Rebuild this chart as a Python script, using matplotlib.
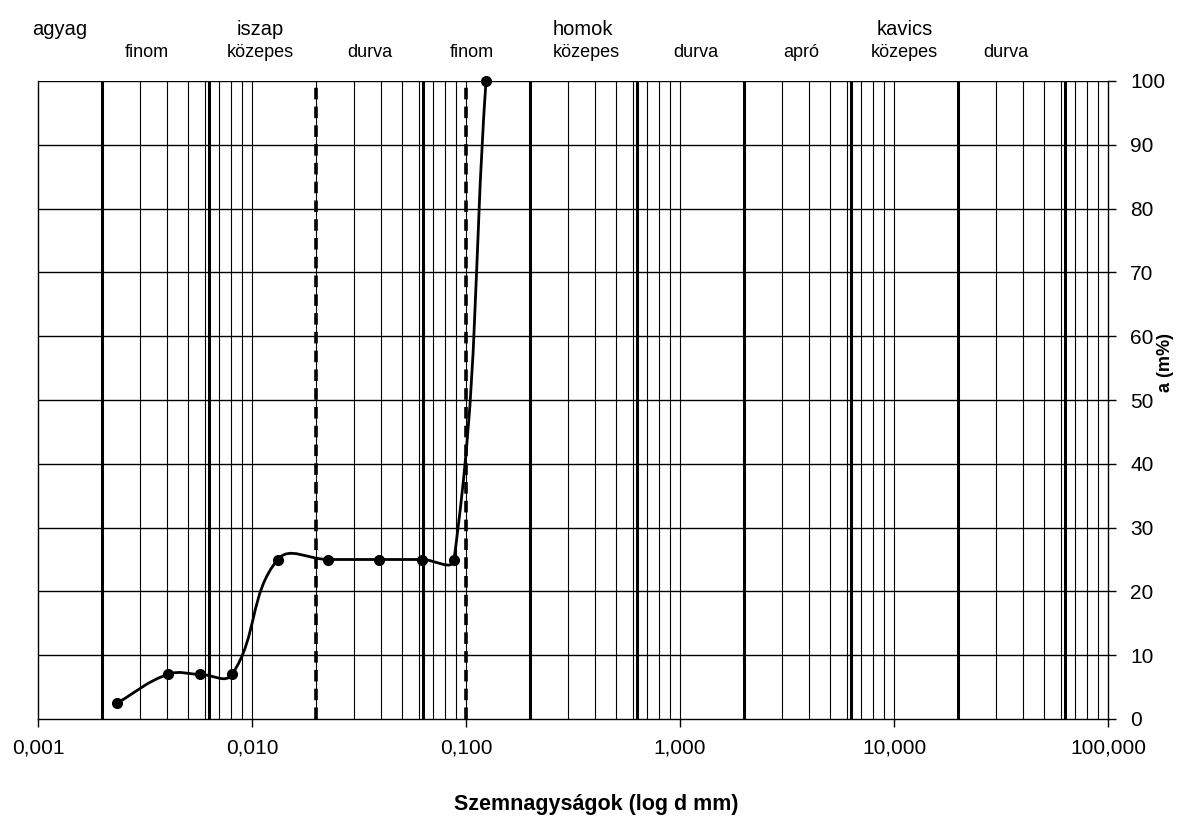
import numpy as np
import matplotlib
matplotlib.use("Agg")
import matplotlib.pyplot as plt
from matplotlib.path import Path
from matplotlib.patches import PathPatch

plt.rcParams["font.family"] = ["Liberation Sans", "DejaVu Sans"]

# measured grain sizes (mm) and passing percentage
d_mm = [0.00234, 0.00405, 0.00571, 0.00807, 0.0132, 0.0227, 0.0392, 0.0623, 0.0879, 0.124]
passing = [2.5, 7.0, 7.0, 7.0, 25.0, 25.0, 25.0, 25.0, 25.0, 100.0]

# fraction boundaries
solid_bounds = [0.002, 0.0063, 0.063, 0.2, 0.63, 2, 6.3, 20, 63]
dashed_bounds = [0.02, 0.1]

x_ticks = [0.001, 0.01, 0.1, 1, 10, 100]
x_ticklabels = ["0,001", "0,010", "0,100", "1,000", "10,000", "100,000"]
y_ticks = list(range(0, 101, 10))

main_labels = [("agyag", 0.00126), ("iszap", 0.0109), ("homok", 0.35), ("kavics", 11.2)]
sub_labels = [("finom", 0.00323), ("közepes", 0.0109), ("durva", 0.0357), ("finom", 0.106),
              ("közepes", 0.365), ("durva", 1.18), ("apró", 3.67), ("közepes", 11.2), ("durva", 33.4)]

fig = plt.figure(figsize=(11.84, 8.18), dpi=100)
ax = fig.add_axes([38 / 1184, 1 - 719 / 818, 1070 / 1184, 638 / 818])
ax.set_xscale("log")
ax.set_xlim(0.001, 100)
ax.set_ylim(0, 100)

# thin log grid
for n in range(-3, 2):
    for k in range(1, 10):
        v = k * 10.0 ** n
        if 0.001 < v < 100:
            ax.axvline(v, color="black", lw=0.8, zorder=1)
for y in y_ticks[1:]:
    ax.axhline(y, color="black", lw=1.0, zorder=1)

for b in solid_bounds:
    ax.axvline(b, color="black", lw=2.2, zorder=2)
for b in dashed_bounds:
    ax.axvline(b, color="black", lw=2.6, ls=(0, (3.2, 2.0)), zorder=2)

# smoothed curve through the points, like a spreadsheet "smoothed line" (display space)
pts = ax.transData.transform(np.column_stack([d_mm, passing]))
ext = np.vstack([pts[0], pts, pts[-1]])
k = 0.42
verts = [pts[0]]
codes = [Path.MOVETO]
for i in range(len(pts) - 1):
    p0, p1, p2, p3 = ext[i], ext[i + 1], ext[i + 2], ext[i + 3]
    seg = np.linalg.norm(p2 - p1)
    d_prev = np.linalg.norm(p1 - p0)
    d_next = np.linalg.norm(p3 - p2)
    c1 = p1 + (p2 - p0) * seg / (seg + d_prev) * k
    c2 = p2 - (p3 - p1) * seg / (seg + d_next) * k
    verts += [c1, c2, p2]
    codes += [Path.CURVE4] * 3
verts = ax.transData.inverted().transform(np.array(verts))
ax.add_patch(PathPatch(Path(verts, codes), fill=False, lw=2.0, color="black", zorder=4,
                       clip_on=False))
ax.plot(d_mm, passing, "o", color="black", ms=7, zorder=5, clip_on=False)

ax.spines["top"].set_visible(False)
for s in ["left", "right", "bottom"]:
    ax.spines[s].set_linewidth(1.0)

ax.set_xticks(x_ticks)
ax.set_xticklabels(x_ticklabels)
ax.xaxis.set_minor_locator(matplotlib.ticker.NullLocator())
ax.tick_params(axis="x", direction="out", length=6, width=1, labelsize=15, pad=8)

ax.yaxis.tick_right()
ax.set_yticks(y_ticks)
ax.tick_params(axis="y", direction="out", length=6, width=1, labelsize=15, pad=10)

fig.text(1166 / 1184, 1 - 362 / 818, "a (m%)", rotation=90, ha="center", va="center",
         fontsize=13, fontweight="bold")
fig.text(596 / 1184, 1 - 810 / 818, "Szemnagyságok (log d mm)", ha="center", va="baseline",
         fontsize=15.5, fontweight="bold")

for txt, xv in main_labels:
    ax.text(xv, 1.072, txt, transform=ax.get_xaxis_transform(), ha="center", va="baseline",
            fontsize=14.5)
for txt, xv in sub_labels:
    ax.text(xv, 1.037, txt, transform=ax.get_xaxis_transform(), ha="center", va="baseline",
            fontsize=13, family=["Liberation Sans Narrow", "Liberation Sans", "DejaVu Sans"])

fig.savefig("out.png", dpi=100)
